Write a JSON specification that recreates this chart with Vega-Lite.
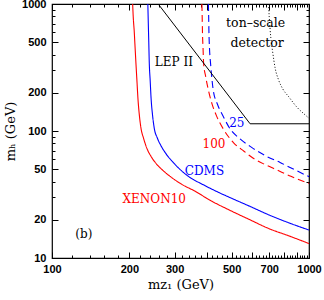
{
  "$schema": "https://vega.github.io/schema/vega-lite/v6.json",
  "width": 257,
  "height": 254,
  "autosize": {"type": "none"},
  "padding": {"left": 52, "top": 4, "right": 15, "bottom": 42},
  "background": "white",
  "config": {
    "view": {"stroke": "#000", "strokeWidth": 1.2},
    "axis": {
      "domain": false,
      "grid": false,
      "tickColor": "#000",
      "tickWidth": 1,
      "labelFont": "Liberation Sans",
      "labelFontWeight": "bold",
      "labelFontSize": 11,
      "labelColor": "#000",
      "labelOverlap": false,
      "labelFlush": false,
      "labelBound": false,
      "titleFont": "DejaVu Serif",
      "titleFontWeight": "normal",
      "titleFontSize": 13,
      "titleColor": "#000"
    }
  },
  "datasets": {
    "curves": [
      {"series": "XENON10", "x": 206, "y": 1000},
      {"series": "XENON10", "x": 207, "y": 800},
      {"series": "XENON10", "x": 209, "y": 600},
      {"series": "XENON10", "x": 210, "y": 500},
      {"series": "XENON10", "x": 212, "y": 350},
      {"series": "XENON10", "x": 214, "y": 250},
      {"series": "XENON10", "x": 216, "y": 180},
      {"series": "XENON10", "x": 219, "y": 130},
      {"series": "XENON10", "x": 222, "y": 105},
      {"series": "XENON10", "x": 227, "y": 88},
      {"series": "XENON10", "x": 234, "y": 73},
      {"series": "XENON10", "x": 243, "y": 63},
      {"series": "XENON10", "x": 255, "y": 55},
      {"series": "XENON10", "x": 270, "y": 49},
      {"series": "XENON10", "x": 290, "y": 43.5},
      {"series": "XENON10", "x": 320, "y": 38},
      {"series": "XENON10", "x": 361, "y": 33.5},
      {"series": "XENON10", "x": 412, "y": 28.5},
      {"series": "XENON10", "x": 487, "y": 24},
      {"series": "XENON10", "x": 589, "y": 20},
      {"series": "XENON10", "x": 700, "y": 17},
      {"series": "XENON10", "x": 830, "y": 15},
      {"series": "XENON10", "x": 1000, "y": 13},
      {"series": "CDMS", "x": 236, "y": 1000},
      {"series": "CDMS", "x": 237, "y": 700},
      {"series": "CDMS", "x": 238, "y": 500},
      {"series": "CDMS", "x": 239, "y": 350},
      {"series": "CDMS", "x": 241, "y": 250},
      {"series": "CDMS", "x": 243, "y": 180},
      {"series": "CDMS", "x": 246, "y": 135},
      {"series": "CDMS", "x": 250, "y": 105},
      {"series": "CDMS", "x": 257, "y": 88},
      {"series": "CDMS", "x": 266, "y": 76},
      {"series": "CDMS", "x": 278, "y": 66},
      {"series": "CDMS", "x": 300, "y": 55},
      {"series": "CDMS", "x": 334, "y": 45},
      {"series": "CDMS", "x": 390, "y": 37.5},
      {"series": "CDMS", "x": 450, "y": 32.5},
      {"series": "CDMS", "x": 520, "y": 28.5},
      {"series": "CDMS", "x": 589, "y": 25.5},
      {"series": "CDMS", "x": 700, "y": 21.8},
      {"series": "CDMS", "x": 830, "y": 19},
      {"series": "CDMS", "x": 1000, "y": 16.6},
      {"series": "100", "x": 383, "y": 1000},
      {"series": "100", "x": 384, "y": 800},
      {"series": "100", "x": 385, "y": 600},
      {"series": "100", "x": 387, "y": 450},
      {"series": "100", "x": 389, "y": 340},
      {"series": "100", "x": 396, "y": 270},
      {"series": "100", "x": 406, "y": 210},
      {"series": "100", "x": 420, "y": 162},
      {"series": "100", "x": 437, "y": 131},
      {"series": "100", "x": 465, "y": 103},
      {"series": "100", "x": 508, "y": 81},
      {"series": "100", "x": 560, "y": 69},
      {"series": "100", "x": 607, "y": 61},
      {"series": "100", "x": 680, "y": 54},
      {"series": "100", "x": 751, "y": 49.3},
      {"series": "100", "x": 850, "y": 44},
      {"series": "100", "x": 1000, "y": 38.7},
      {"series": "25", "x": 406, "y": 1000},
      {"series": "25", "x": 407, "y": 800},
      {"series": "25", "x": 408, "y": 600},
      {"series": "25", "x": 410, "y": 450},
      {"series": "25", "x": 414, "y": 340},
      {"series": "25", "x": 418, "y": 270},
      {"series": "25", "x": 424, "y": 210},
      {"series": "25", "x": 440, "y": 163},
      {"series": "25", "x": 464, "y": 130},
      {"series": "25", "x": 493, "y": 104},
      {"series": "25", "x": 538, "y": 87},
      {"series": "25", "x": 600, "y": 74},
      {"series": "25", "x": 680, "y": 63.5},
      {"series": "25", "x": 772, "y": 56.5},
      {"series": "25", "x": 880, "y": 49.5},
      {"series": "25", "x": 1000, "y": 43.7}
    ],
    "lep": [
      {"series": "LEP II", "x": 259, "y": 1000},
      {"series": "LEP II", "x": 590, "y": 114},
      {"series": "LEP II", "x": 1000, "y": 114}
    ],
    "ton": [
      {"series": "ton", "x": 696, "y": 1000},
      {"series": "ton", "x": 700, "y": 800},
      {"series": "ton", "x": 705, "y": 650},
      {"series": "ton", "x": 710, "y": 547},
      {"series": "ton", "x": 722, "y": 420},
      {"series": "ton", "x": 739, "y": 310},
      {"series": "ton", "x": 760, "y": 255},
      {"series": "ton", "x": 790, "y": 215},
      {"series": "ton", "x": 834, "y": 186},
      {"series": "ton", "x": 900, "y": 153},
      {"series": "ton", "x": 950, "y": 138},
      {"series": "ton", "x": 1000, "y": 126}
    ],
    "labels": [
      {"series": "LEP II", "text": "LEP II", "x": 298, "y": 351},
      {"series": "25", "text": "25", "x": 524, "y": 115},
      {"series": "100", "text": "100", "x": 427, "y": 79},
      {"series": "CDMS", "text": "CDMS", "x": 392, "y": 48.7},
      {"series": "XENON10", "text": "XENON10", "x": 250, "y": 29.2},
      {"series": "(b)", "text": "(b)", "x": 133, "y": 15.4}
    ],
    "tonlabels": [
      {"series": "ton", "text": "ton–scale", "x": 620, "y": 705},
      {"series": "ton", "text": "detector", "x": 628, "y": 495}
    ]
  },
  "resolve": {"axis": {"x": "independent", "y": "independent"}},
  "layer": [
    {
      "data": {"name": "curves"},
      "mark": {"type": "line", "interpolate": "monotone", "strokeWidth": 1.1, "clip": true},
      "encoding": {
        "x": {
          "field": "x", "type": "quantitative",
          "scale": {"type": "log", "domain": [100, 1000], "nice": false},
          "axis": {
            "orient": "bottom",
            "values": [100, 200, 300, 400, 500, 600, 700, 800, 900, 1000],
            "labelExpr": "indexof([100,200,300,500,700,1000], datum.value) >= 0 ? format(datum.value, 'd') : ''",
            "tickSize": -6,
            "labelPadding": 11,
            "title": "mᴢ₁ (GeV)",
            "titlePadding": 4
          }
        },
        "y": {
          "field": "y", "type": "quantitative",
          "scale": {"type": "log", "domain": [10, 1000], "nice": false},
          "axis": {
            "orient": "left",
            "values": [10, 20, 50, 100, 200, 500, 1000],
            "format": "d",
            "tickSize": -6,
            "labelPadding": 12,
            "title": "mₕ (GeV)",
            "titlePadding": 4
          }
        },
        "color": {
          "field": "series", "type": "nominal",
          "scale": {
            "domain": ["XENON10", "CDMS", "100", "25", "LEP II", "ton", "(b)"],
            "range": ["#ff0000", "#0000ff", "#ff0000", "#0000ff", "#000000", "#000000", "#000000"]
          },
          "legend": null
        },
        "strokeDash": {
          "field": "series", "type": "nominal",
          "scale": {
            "domain": ["XENON10", "CDMS", "100", "25"],
            "range": [[1, 0], [1, 0], [7, 4], [7, 4]]
          },
          "legend": null
        }
      }
    },
    {
      "data": {"name": "lep"},
      "mark": {"type": "line", "strokeWidth": 1, "clip": true},
      "encoding": {
        "x": {
          "field": "x", "type": "quantitative",
          "scale": {"type": "log", "domain": [100, 1000], "nice": false},
          "axis": {
            "orient": "top",
            "values": [100, 200, 300, 400, 500, 600, 700, 800, 900, 1000],
            "labels": false,
            "tickSize": -6,
            "title": null
          }
        },
        "y": {
          "field": "y", "type": "quantitative",
          "scale": {"type": "log", "domain": [10, 1000], "nice": false},
          "axis": {
            "orient": "right",
            "values": [10, 20, 50, 100, 200, 500, 1000],
            "labels": false,
            "tickSize": -6,
            "title": null
          }
        },
        "color": {"field": "series", "type": "nominal", "legend": null}
      }
    },
    {
      "data": {"name": "ton"},
      "mark": {"type": "line", "interpolate": "monotone", "strokeWidth": 1, "strokeDash": [1, 2], "clip": true},
      "encoding": {
        "x": {
          "field": "x", "type": "quantitative",
          "scale": {"type": "log", "domain": [100, 1000], "nice": false},
          "axis": {
            "orient": "bottom",
            "values": [120, 140, 160, 180, 220, 240, 260, 280, 320, 340, 360, 380, 420, 440, 460, 480, 520, 540, 560, 580, 620, 640, 660, 680, 720, 740, 760, 780, 820, 840, 860, 880, 920, 940, 960, 980],
            "labels": false,
            "tickSize": -3,
            "title": null
          }
        },
        "y": {
          "field": "y", "type": "quantitative",
          "scale": {"type": "log", "domain": [10, 1000], "nice": false},
          "axis": {
            "orient": "left",
            "values": [30, 40, 60, 70, 80, 90, 300, 400, 600, 700, 800, 900],
            "labels": false,
            "tickSize": -3,
            "title": null
          }
        },
        "color": {"field": "series", "type": "nominal", "legend": null}
      }
    },
    {
      "data": {"name": "labels"},
      "mark": {"type": "text", "font": "DejaVu Serif", "fontSize": 12, "align": "center", "baseline": "middle"},
      "encoding": {
        "x": {
          "field": "x", "type": "quantitative",
          "scale": {"type": "log", "domain": [100, 1000], "nice": false},
          "axis": {
            "orient": "top",
            "values": [120, 140, 160, 180, 220, 240, 260, 280, 320, 340, 360, 380, 420, 440, 460, 480, 520, 540, 560, 580, 620, 640, 660, 680, 720, 740, 760, 780, 820, 840, 860, 880, 920, 940, 960, 980],
            "labels": false,
            "tickSize": -3,
            "title": null
          }
        },
        "y": {
          "field": "y", "type": "quantitative",
          "scale": {"type": "log", "domain": [10, 1000], "nice": false},
          "axis": {
            "orient": "right",
            "values": [30, 40, 60, 70, 80, 90, 300, 400, 600, 700, 800, 900],
            "labels": false,
            "tickSize": -3,
            "title": null
          }
        },
        "text": {"field": "text", "type": "nominal"},
        "color": {"field": "series", "type": "nominal", "legend": null}
      }
    },
    {
      "data": {"name": "tonlabels"},
      "mark": {"type": "text", "font": "DejaVu Serif", "fontSize": 12.5, "align": "center", "baseline": "middle"},
      "encoding": {
        "x": {
          "field": "x", "type": "quantitative",
          "scale": {"type": "log", "domain": [100, 1000], "nice": false},
          "axis": null
        },
        "y": {
          "field": "y", "type": "quantitative",
          "scale": {"type": "log", "domain": [10, 1000], "nice": false},
          "axis": null
        },
        "text": {"field": "text", "type": "nominal"},
        "color": {"field": "series", "type": "nominal", "legend": null}
      }
    }
  ]
}
